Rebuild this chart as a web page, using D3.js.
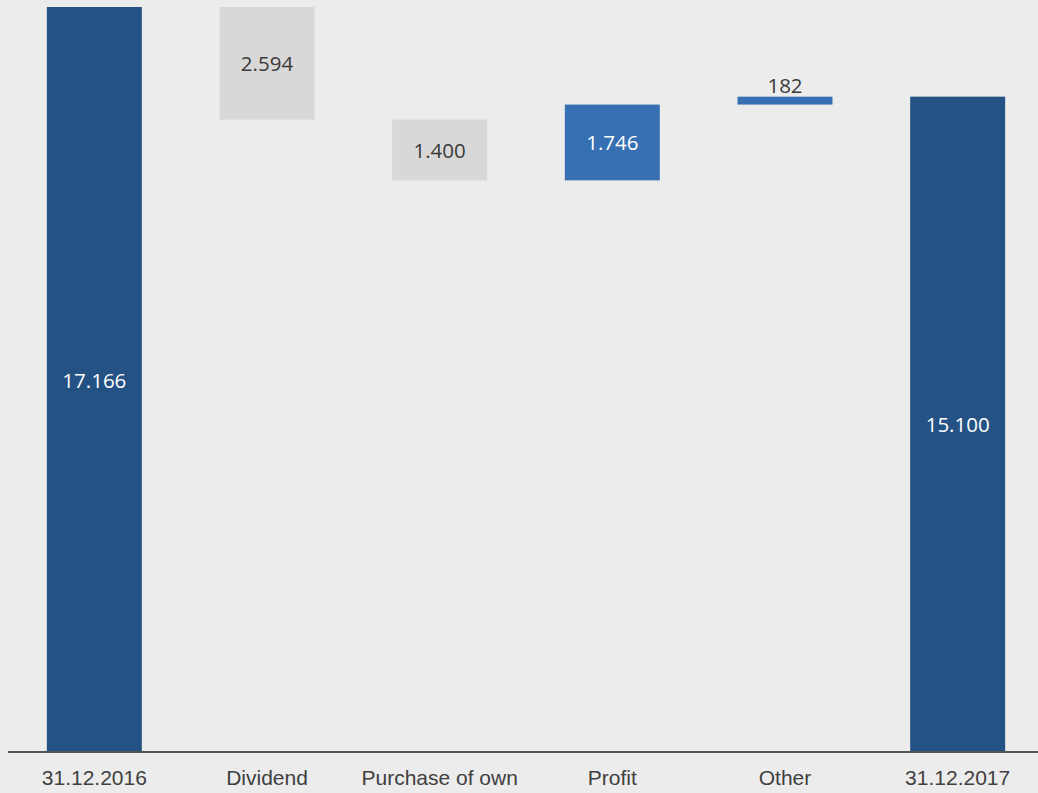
<!DOCTYPE html>
<html>
<head>
<meta charset="utf-8">
<script src="https://cdn.jsdelivr.net/npm/d3@7"></script>
<style>
  html, body { margin: 0; padding: 0; background: #ececec; }
  svg { display: block; }
</style>
</head>
<body>
<svg id="chart" width="1038" height="793"></svg>
<script>
// Equity bridge 2016 -> 2017
const categories = ["31.12.2016", "Dividend", "Purchase of own", "Profit", "Other", "31.12.2017"];
const values = [17166, -2594, -1400, 1746, 182, 15100];
const kinds = ["total", "decrease", "decrease", "increase", "increase", "total"];
const valueLabels = ["17.166", "2.594", "1.400", "1.746", "182", "15.100"];

const W = 1038, H = 793;
const svg = d3.select("#chart");

svg.append("rect").attr("width", W).attr("height", H).attr("fill", "#ececec");

// running start/end of each step
let running = 0;
const steps = categories.map((c, i) => {
  let start, end;
  if (kinds[i] === "total") { start = 0; end = values[i]; running = values[i]; }
  else { start = running; end = running + values[i]; running = end; }
  return { cat: c, start, end, kind: kinds[i], label: valueLabels[i] };
});

const x = d3.scaleBand().domain(categories).range([8, 1044]).paddingInner(0.45).paddingOuter(0.225);
const y = d3.scaleLinear().domain([0, 17166]).range([752, 7]);

const fill = { total: "#245284", decrease: "#d8d8d8", increase: "#3670b2" };

svg.selectAll("rect.bar").data(steps).enter().append("rect")
  .attr("class", "bar")
  .attr("x", d => x(d.cat))
  .attr("width", x.bandwidth())
  .attr("y", d => y(Math.max(d.start, d.end)))
  .attr("height", d => Math.abs(y(d.start) - y(d.end)))
  .attr("fill", d => fill[d.kind]);

// value labels: inside the bar, or above it when the bar is too thin
svg.selectAll("text.val").data(steps).enter().append("text")
  .attr("class", "val")
  .attr("x", d => x(d.cat) + x.bandwidth() / 2)
  .attr("y", d => {
    const top = y(Math.max(d.start, d.end)), bot = y(Math.min(d.start, d.end));
    return (bot - top) < 30 ? top - 4 : (top + bot) / 2 + 8;
  })
  .attr("text-anchor", "middle")
  .attr("font-family", "'Open Sans', sans-serif")
  .attr("font-size", 20.5)
  .attr("fill", d => {
    const thin = Math.abs(y(d.start) - y(d.end)) < 30;
    return (d.kind === "decrease" || thin) ? "#3a3a3a" : "#ffffff";
  })
  .text(d => d.label);

// baseline axis
const axis = svg.append("g").attr("transform", "translate(0,752)")
  .call(d3.axisBottom(x).tickSize(0).tickPadding(18));
axis.select(".domain").attr("d", "M8,0H1038").attr("stroke", "#555555").attr("stroke-width", 1.8);
axis.selectAll("text")
  .attr("font-family", "'Liberation Sans', Arial, sans-serif")
  .attr("font-size", 21)
  .attr("fill", "#404040");
</script>
</body>
</html>
